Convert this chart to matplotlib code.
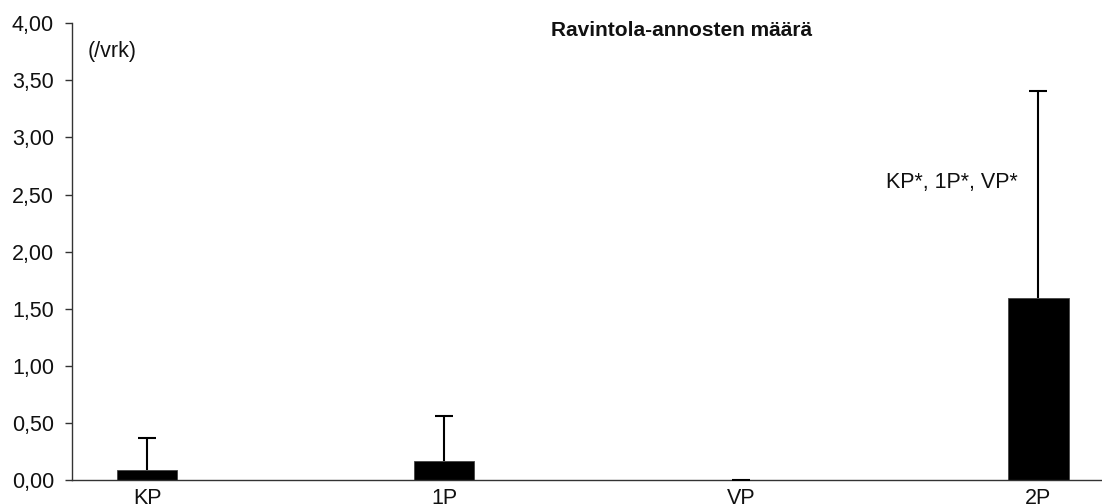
import matplotlib
matplotlib.use("Agg")
import matplotlib.pyplot as plt
from matplotlib.ticker import FuncFormatter, MultipleLocator

plt.rcParams['font.family'] = ['Liberation Sans', 'DejaVu Sans']

# Data
categories = ["KP", "1P", "VP", "2P"]
means = [0.085, 0.17, 0.00, 1.59]
sds = [0.285, 0.39, 0.00, 1.82]
title = "Ravintola-annosten määrä"
unit_label = "(/vrk)"
sig_label = "KP*, 1P*, VP*"

fig = plt.figure(figsize=(11.02, 5.04), dpi=100)
ax = fig.add_axes([72 / 1102, 24 / 504, 1030 / 1102, 456.7 / 504])

x = list(range(len(categories)))
ax.bar(x, means, width=0.205, color="black", edgecolor="#444444", linewidth=0.6, zorder=2)
eb = ax.errorbar(x, means, yerr=[[0] * len(sds), sds], fmt="none", ecolor="black",
                 elinewidth=1.5, capsize=6.5, capthick=1.5, zorder=3)
# one-sided bars: hide the lower caps
eb[1][0].set_visible(False)

ax.set_xlim(-0.2525, 3.215)
ax.set_ylim(0, 4.0)
ax.yaxis.set_major_locator(MultipleLocator(0.5))
ax.yaxis.set_major_formatter(FuncFormatter(lambda v, p: f"{v:.2f}".replace(".", ",")))
ax.set_xticks(x)
ax.set_xticklabels(categories)

for side in ("top", "right"):
    ax.spines[side].set_visible(False)
for side in ("left", "bottom"):
    ax.spines[side].set_color("#333333")
    ax.spines[side].set_linewidth(1.0)

fs = 15.5
ax.tick_params(axis="y", direction="out", length=5, width=1.0, color="#333333",
               labelsize=fs, pad=8, labelcolor="#111111")
ax.tick_params(axis="x", length=0, labelsize=fs, pad=6, labelcolor="#111111")

ax.text((682 - 72) / 1030, (480 - 31) / 456.7, title, transform=ax.transAxes,
        ha="center", va="center", fontsize=15, fontweight="bold", color="#111111")
ax.text((88 - 72) / 1030, (480 - 51) / 456.7, unit_label, transform=ax.transAxes,
        ha="left", va="center", fontsize=fs, color="#111111")
ax.text(3 - 0.29, 2.61, sig_label, ha="center", va="center", fontsize=fs, color="#111111")

fig.savefig("out.png", dpi=100)
